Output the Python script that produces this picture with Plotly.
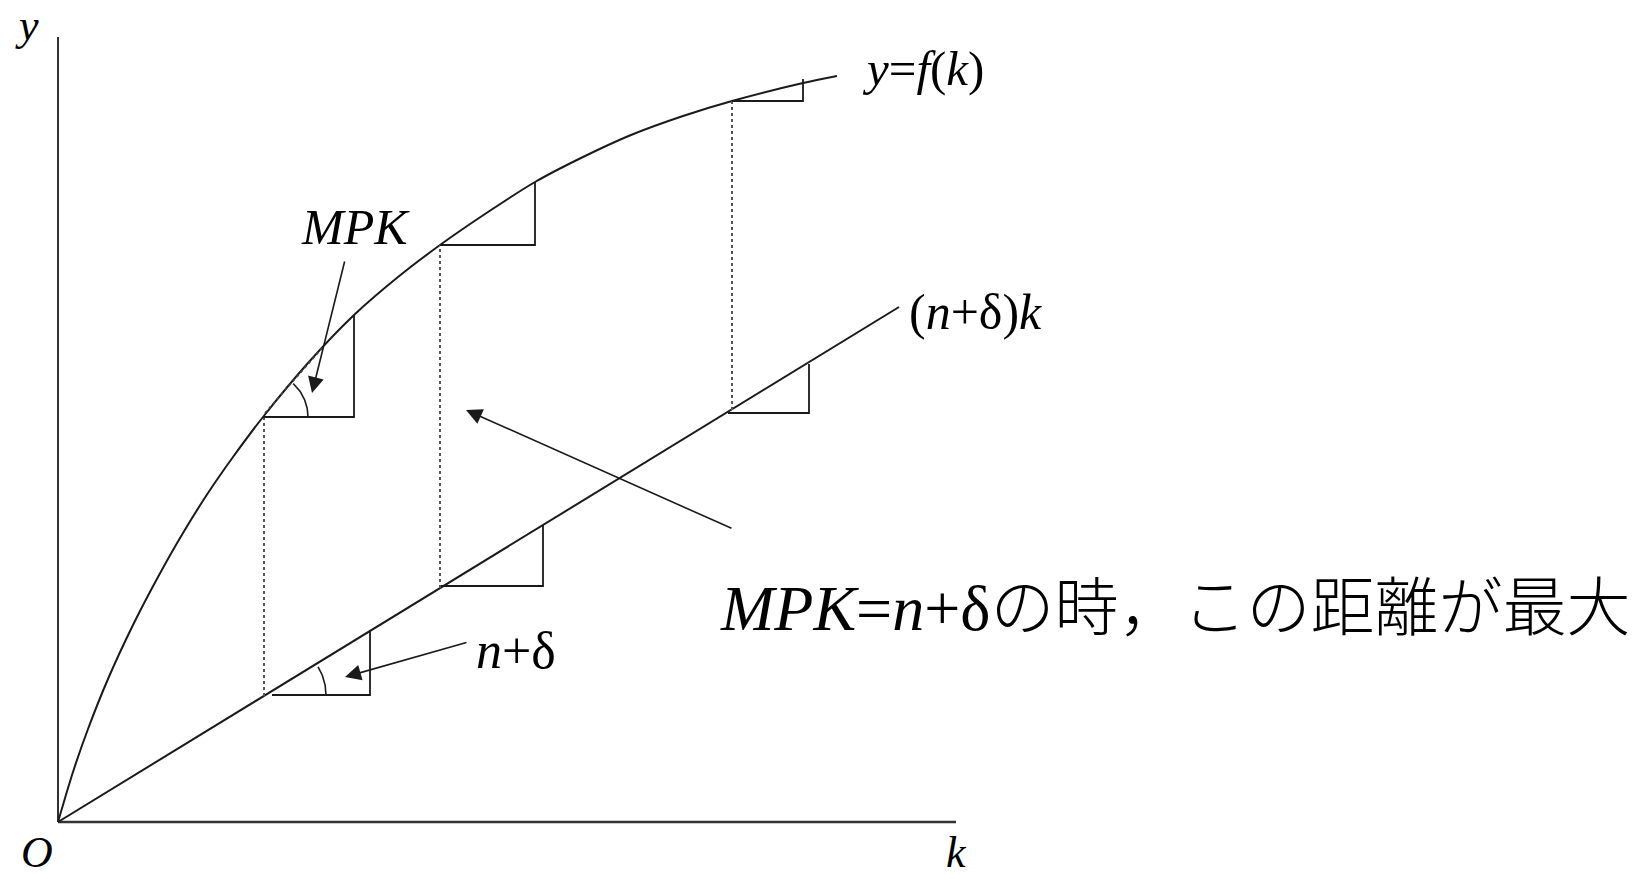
import numpy as np
import plotly.graph_objects as go

# ---- data (1 unit = 1 px, origin at the axes corner) ----
curve_k = [0, 15, 30, 50, 75, 100, 125, 150, 175, 205, 250, 296, 340, 382, 430, 477, 525, 573, 625, 674, 745, 779]
curve_y = [0, 50, 93, 143, 197, 245, 289, 329, 365, 405, 459, 507, 545, 577, 610, 640, 665, 687, 706, 721, 739, 746]

line_k = [0, 841]
line_y = [0, 515]

drop_k = [206, 382, 674]
drop_top = [405, 577, 721]
drop_bottom = [126, 234, 412]

ctri_k0 = [205, 382, 674]
ctri_k1 = [296, 477, 745]
ctri_y0 = [405, 577, 721]
ctri_y1 = [507, 640, 743]

ltri_k0 = [214, 383, 670]
ltri_k1 = [312, 485, 751]
ltri_y0 = [127, 236, 409]
ltri_y1 = [192, 297, 458]

chord_k = [207, 265]
chord_y = [409, 475]

axis_k_end = 898
axis_y_end = 785

FONT = "Liberation Serif, Times New Roman, serif"
BLACK = "#1a1a1a"

fig = go.Figure()

# axes
fig.add_trace(go.Scatter(x=[0, 0], y=[0, axis_y_end], mode="lines",
                         line=dict(color=BLACK, width=1.8), hoverinfo="skip"))
fig.add_trace(go.Scatter(x=[0, axis_k_end], y=[0, 0], mode="lines",
                         line=dict(color="#333333", width=2.4), hoverinfo="skip"))

# production function
fig.add_trace(go.Scatter(x=curve_k, y=curve_y, mode="lines", line_shape="spline",
                         line=dict(color=BLACK, width=2, smoothing=0.8), hoverinfo="skip"))
# (n+delta)k
fig.add_trace(go.Scatter(x=line_k, y=line_y, mode="lines",
                         line=dict(color=BLACK, width=2), hoverinfo="skip"))

# dotted verticals
for k, t, b in zip(drop_k, drop_top, drop_bottom):
    fig.add_trace(go.Scatter(x=[k, k], y=[b, t], mode="lines",
                             line=dict(color="#555555", width=2, dash="dot"), hoverinfo="skip"))

# slope triangles
for k0, k1, y0, y1 in zip(ctri_k0, ctri_k1, ctri_y0, ctri_y1):
    fig.add_trace(go.Scatter(x=[k0, k1, k1], y=[y0, y0, y1], mode="lines",
                             line=dict(color=BLACK, width=1.8), hoverinfo="skip"))
for k0, k1, y0, y1 in zip(ltri_k0, ltri_k1, ltri_y0, ltri_y1):
    fig.add_trace(go.Scatter(x=[k0, k1, k1], y=[y0, y0, y1], mode="lines",
                             line=dict(color=BLACK, width=1.8), hoverinfo="skip"))

# tangent chord (dotted)
fig.add_trace(go.Scatter(x=chord_k, y=chord_y, mode="lines",
                         line=dict(color="#444444", width=1.8, dash="dot"), hoverinfo="skip"))

# angle arcs
def arc(cx, cy, r, a1):
    t = np.linspace(0, np.radians(a1), 30)
    return cx + r * np.cos(t), cy + r * np.sin(t)

ax1, ay1 = arc(ctri_k0[0], ctri_y0[0], 45, 48)
fig.add_trace(go.Scatter(x=ax1, y=ay1, mode="lines", line=dict(color=BLACK, width=1.6), hoverinfo="skip"))
ax2, ay2 = arc(ltri_k0[0], ltri_y0[0], 54, 31.5)
fig.add_trace(go.Scatter(x=ax2, y=ay2, mode="lines", line=dict(color=BLACK, width=1.6), hoverinfo="skip"))

# arrows
arrows = [
    dict(x=254, y=429, ax=287, ay=562),
    dict(x=287, y=145, ax=410, ay=180),
    dict(x=408, y=412, ax=675, ay=293),
]
for a in arrows:
    fig.add_annotation(x=a["x"], y=a["y"], ax=a["ax"], ay=a["ay"], xref="x", yref="y",
                       axref="x", ayref="y", text="", showarrow=True,
                       arrowhead=2, arrowsize=2, arrowwidth=1.6, arrowcolor=BLACK)

# labels
labels = [
    dict(x=865, y=754, text="<i>y</i>=<i>f</i>(<i>k</i>)", size=49),
    dict(x=917, y=510, text="(<i>n</i>+δ)<i>k</i>", size=50),
    dict(x=297, y=595, text="<i>MPK</i>", size=50),
    dict(x=458, y=172, text="<i>n</i>+δ", size=52),
    dict(x=-31, y=797, text="<i>y</i>", size=44),
    dict(x=-21, y=-30, text="<i>O</i>", size=44),
    dict(x=898, y=-30, text="<i>k</i>", size=44),
]
for L in labels:
    fig.add_annotation(x=L["x"], y=L["y"], xref="x", yref="y", text=L["text"], showarrow=False,
                       xanchor="center", yanchor="middle",
                       font=dict(family=FONT, size=L["size"], color="#000000"))

fig.add_annotation(x=660, y=214, xref="x", yref="y",
                   text="<i>MPK</i>=<i>n</i>+δの時，この距離が最大", showarrow=False,
                   xanchor="left", yanchor="middle",
                   font=dict(family="Liberation Serif, Noto Sans CJK JP, sans-serif", size=64,
                             color="#000000", weight=300))

fig.update_layout(
    width=1648, height=879,
    margin=dict(l=0, r=0, t=0, b=0),
    paper_bgcolor="white", plot_bgcolor="white",
    showlegend=False,
    xaxis=dict(range=[-58, 1590], visible=False, fixedrange=True),
    yaxis=dict(range=[-57, 822], visible=False, fixedrange=True),
)

fig.write_html("out.html", config={"displayModeBar": False},
               post_script="document.body.style.margin='0';document.body.style.overflow='hidden';")
